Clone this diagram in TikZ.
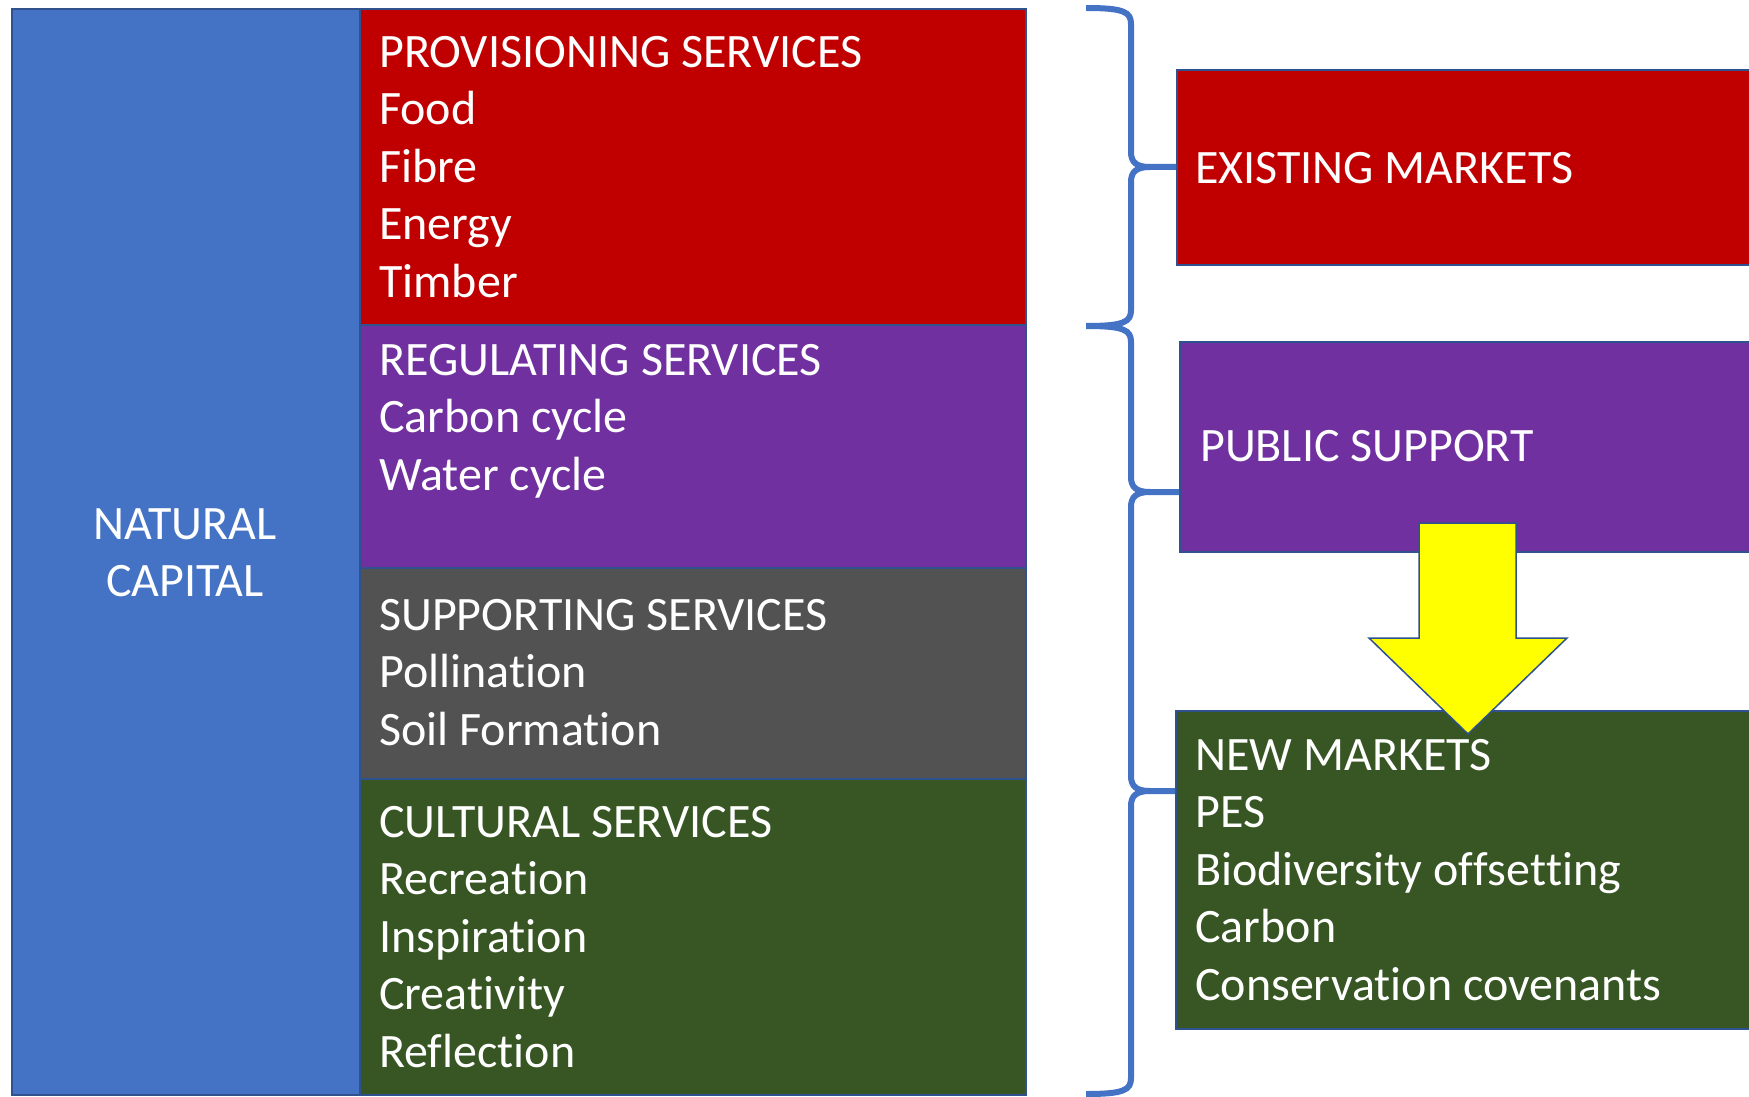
\documentclass[tikz,border=0pt]{standalone}
\usepackage{fontspec}
\setmainfont{Carlito}
\newcommand{\nolig}{\kern0pt }
\definecolor{ncblue}{HTML}{4472C4}
\definecolor{bordc}{HTML}{2F528F}
\definecolor{provred}{HTML}{C00000}
\definecolor{regpurple}{HTML}{7030A0}
\definecolor{supgrey}{HTML}{525252}
\definecolor{culgreen}{HTML}{375623}
\definecolor{arrowyellow}{HTML}{FFFF00}
\tikzset{
  box/.style={draw=bordc, line width=2pt, anchor=north west, inner sep=0pt},
  txt/.style={text=white, inner sep=0pt, align=left, anchor=north west,
    font=\fontsize{48}{57.5}\selectfont},
  bracestyle/.style={draw=ncblue, line width=6pt, line join=round}
}
\begin{document}
\begin{tikzpicture}[x=1pt,y=-1pt]
\useasboundingbox (0,0) rectangle (1749,1097);
\clip (0,0) rectangle (1749,1097);
\fill[white] (0,0) rectangle (1749,1097);
% left column
\node[box, fill=ncblue, minimum width=348, minimum height=1086] (nc) at (11,8) {};
\node[box, fill=provred, minimum width=666, minimum height=316] (prov) at (359,8) {};
\node[box, fill=regpurple, minimum width=666, minimum height=243] (reg) at (359,324) {};
\node[box, fill=supgrey, minimum width=666, minimum height=211] (sup) at (359,567) {};
\node[box, fill=culgreen, minimum width=666, minimum height=316] (cul) at (359,778) {};
% texts
\node[txt, align=center, anchor=north] (ncT) at (185,498.75) {\strut NATURAL\\CAPITAL};
\node[txt] (provT) at (379,26.75) {\strut PROVISIONING SERVICES\\Food\\Fibre\\Energy\\Timber};
\node[txt] (regT) at (379,334.75) {\strut REGULATING SERVICES\\Carbon cycle\\Water cycle};
\node[txt] (supT) at (379,589.75) {\strut SUPPORTING SERVICES\\Pollinat\nolig ion\\Soil Format\nolig ion};
\node[txt] (culT) at (379,796.75) {\strut CULTURAL SERVICES\\Recreat\nolig ion\\Inspirat\nolig ion\\Creat\nolig ivity\\Ref\nolig lect\nolig ion};
% right column
\node[box, fill=provred, minimum width=600, minimum height=195] (exist) at (1176,69) {};
\node[box, fill=regpurple, minimum width=600, minimum height=210] (pub) at (1179,341) {};
\node[box, fill=culgreen, minimum width=600, minimum height=318] (new) at (1175,710) {};
\node[txt] (existT) at (1195,142.75) {\strut EXISTING MARKETS};
\node[txt] (pubT) at (1200,420.75) {\strut PUBLIC SUPPORT};
\node[txt] (newT) at (1195,729.75) {\strut NEW MARKETS\\PES\\Biodiversity of\nolig f\nolig set\nolig t\nolig ing\\Carbon\\Conservat\nolig ion covenants};
% braces
\draw[bracestyle] (1086,8) .. controls (1124,8) and (1131,12) .. (1131,24)
  -- (1131,152) .. controls (1131,162) and (1136,167) .. (1150,167) -- (exist.west |- 0,167);
\draw[bracestyle] (1150,167) .. controls (1136,167) and (1131,172) .. (1131,182)
  -- (1131,310) .. controls (1131,322) and (1124,326) .. (1086,326);
\draw[bracestyle] (1086,326) .. controls (1124,326) and (1131,330) .. (1131,342)
  -- (1131,477) .. controls (1131,487) and (1136,492) .. (1150,492) -- (pub.west |- 0,492);
\draw[bracestyle] (1150,492) .. controls (1136,492) and (1131,497) .. (1131,507)
  -- (1131,776) .. controls (1131,786) and (1136,791) .. (1150,791) -- (new.west |- 0,791);
\draw[bracestyle] (1150,791) .. controls (1136,791) and (1131,796) .. (1131,806)
  -- (1131,1078) .. controls (1131,1090) and (1124,1094) .. (1086,1094);
% block arrow from public support to new markets
\draw[fill=arrowyellow, draw=bordc, line width=1.5pt, line join=miter]
  (1419,523) -- (1516,523) -- (1516,638) -- (1567,638) -- (1468,734)
  -- (1369,638) -- (1419,638) -- cycle;
\end{tikzpicture}
\end{document}
